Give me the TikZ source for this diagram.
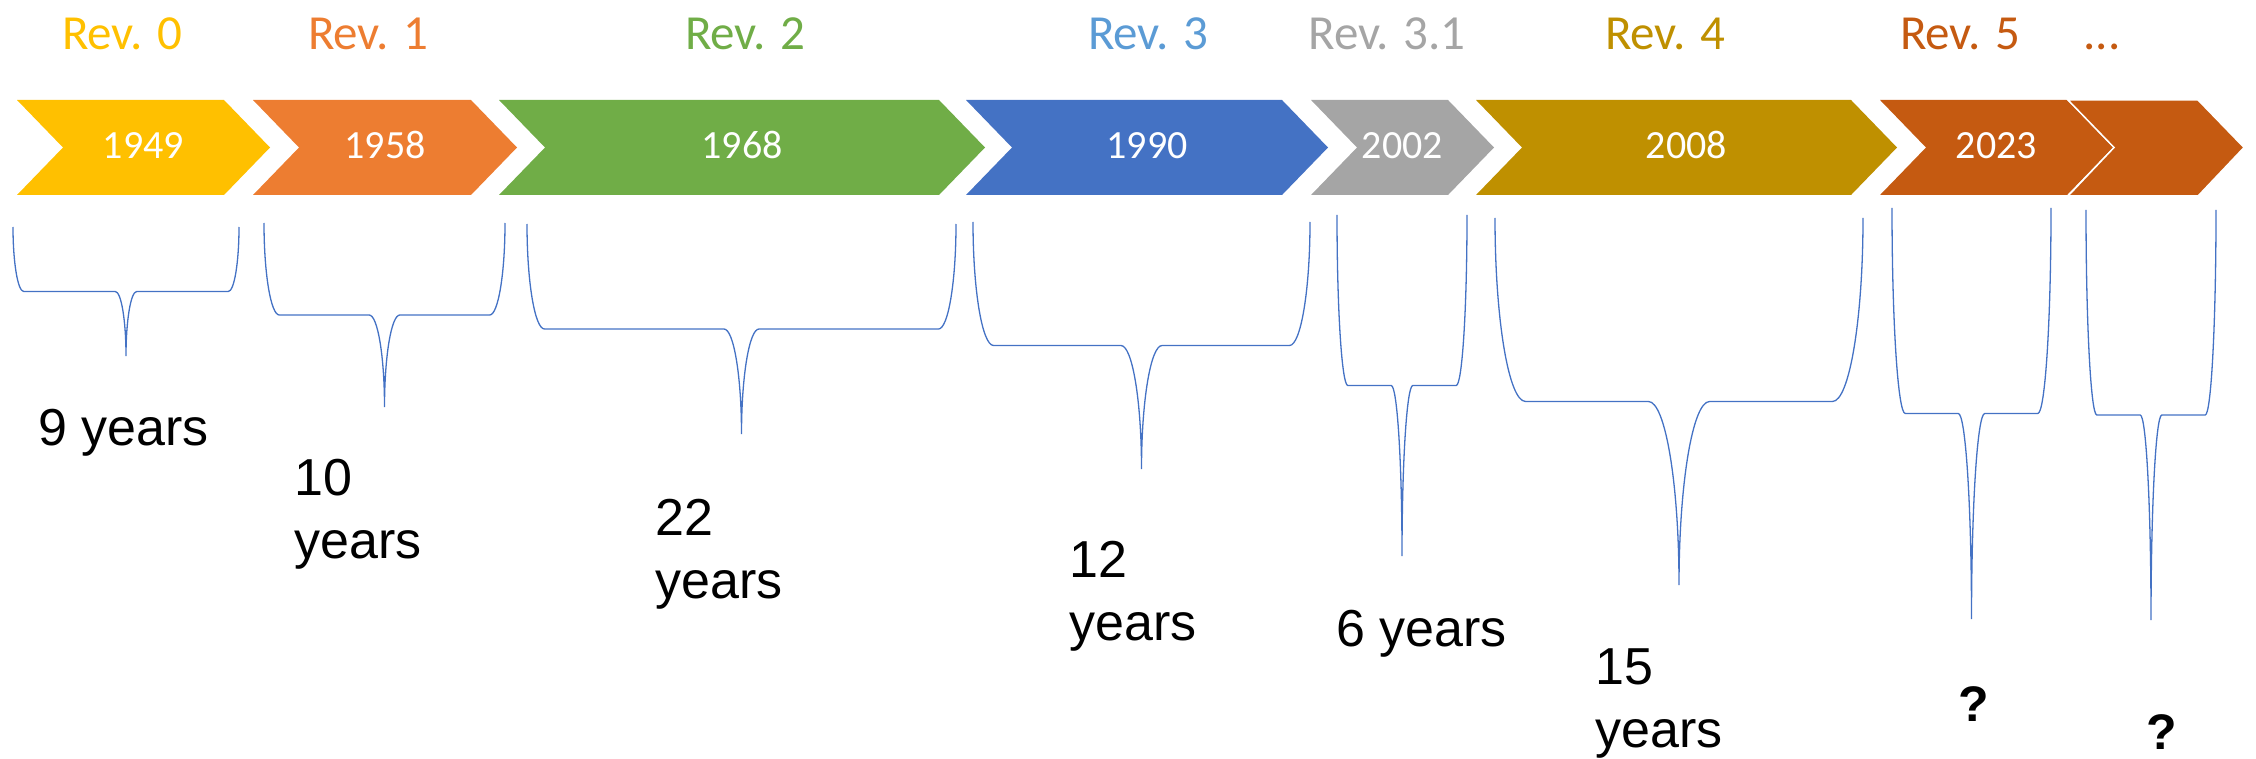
\documentclass[tikz,border=0pt]{standalone}
\usepackage{fontspec}
\setmainfont{Liberation Sans}
\newfontfamily\calib[Numbers=Lining]{Carlito}

\definecolor{revgold}{HTML}{FFC000}
\definecolor{revorange}{HTML}{ED7D31}
\definecolor{revgreen}{HTML}{70AD47}
\definecolor{revblue}{HTML}{4472C4}
\definecolor{revlightblue}{HTML}{5B9BD5}
\definecolor{revgray}{HTML}{A5A5A5}
\definecolor{revdarkgold}{HTML}{BF9000}
\definecolor{revrust}{HTML}{C55A11}

\tikzset{%
  rev label/.style={
    anchor=base,
    inner sep=0pt,
    font=\calib\fontsize{49}{59}\selectfont
  },
  year label/.style={
    anchor=base,
    inner sep=0pt,
    text=white,
    font=\calib\fontsize{40}{48}\selectfont
  },
  span label/.style={
    anchor=base west,
    inner sep=0pt,
    align=left,
    font=\fontsize{52}{63}\selectfont
  },
  unknown label/.style={
    anchor=base,
    inner sep=0pt,
    font=\bfseries\fontsize{50}{60}\selectfont
  },
  span brace/.style={
    draw=revblue,
    line width=1.3pt
  },
}

\begin{document}
\begin{tikzpicture}[x=1pt, y=-1pt]

\useasboundingbox (0,0) rectangle (2256,759);

% CHEVRONS with years
\foreach \lft/\flat/\col/\yr [count=\i] in {17/224/revgold/1949, 253/471/revorange/1958,
    499/939/revgreen/1968, 966/1282/revblue/1990, 1311/1448/revgray/2002,
    1476/1851/revdarkgold/2008, 1880/2067/revrust/2023}
{
  \fill [\col] (\lft,100) -- (\flat,100) -- (\flat+46,147.5) -- (\flat,195)
    -- (\lft,195) -- (\lft+46,147.5) -- cycle;
  \node [year label] (year-\i) at ({(\lft+\flat+46)/2},159) {\yr};
}

% last chevron, no year yet
\filldraw [fill=revrust, draw=white, line width=1.5pt] (2068,100) -- (2198,100)
  -- (2244,147.5) -- (2198,196) -- (2068,196) -- (2114,147.5) -- cycle;

% REVISION labels
\foreach \txt/\x/\col [count=\i] in {Rev. 0/122/revgold, Rev. 1/368/revorange,
    Rev. 2/745/revgreen, Rev. 3/1148/revlightblue, Rev. 3.1/1387/revgray,
    Rev. 4/1665/revdarkgold, Rev. 5/1960/revrust}
  \node [rev label, text=\col] (rev-\i) at (\x,50) {\txt};
\node [rev label, text=revrust] (rev-more) at (2102,50) {...};

% BRACES between releases
\foreach \lft/\rgt/\tp/\tip [count=\i] in {13/239/227/356, 264/505/223/407,
    527/956/224/434, 973/1310/222/469, 1337/1467/215/556, 1495/1863/218/585,
    1892/2051/208/619, 2086/2216/210/620}
{
  \pgfmathsetmacro\hh{(\tip-\tp)/2}
  \pgfmathsetmacro\mid{\tp+\hh}
  \pgfmathsetmacro\cx{(\lft+\rgt)/2}
  \pgfmathsetmacro\rad{0.0833*min(\rgt-\lft,\tip-\tp)}
  \coordinate (tip-\i) at (\cx,\tip);
  \draw [span brace] (\lft,\tp)
    .. controls (\lft,\tp+0.5523*\hh) and (\lft+0.4477*\rad,\mid) .. (\lft+\rad,\mid)
    -- (\cx-\rad,\mid)
    .. controls (\cx-0.4477*\rad,\mid) and (\cx,\mid+0.4477*\hh) .. (tip-\i)
    .. controls (\cx,\mid+0.4477*\hh) and (\cx+0.4477*\rad,\mid) .. (\cx+\rad,\mid)
    -- (\rgt-\rad,\mid)
    .. controls (\rgt-0.4477*\rad,\mid) and (\rgt,\tp+0.5523*\hh) .. (\rgt,\tp);
}

% SPAN labels (base is the last line)
\foreach \x/\y/\txt [count=\i] in {38/445/{9 years}, 294/558/{10\\years},
    655/598/{22\\years}, 1069/640/{12\\years}, 1336/646/{6 years},
    1595/747/{15\\years}}
  \node [span label] (span-\i) at (\x,\y) {\txt};

\node [unknown label] (span-7) at (1974,721) {?};
\node [unknown label] (span-8) at (2162,749) {?};

\end{tikzpicture}
\end{document}
